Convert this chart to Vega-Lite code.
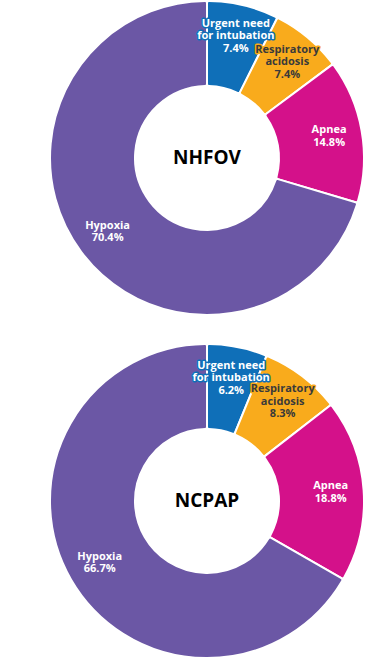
{
  "$schema": "https://vega.github.io/schema/vega-lite/v6.json",
  "bounds": "flush",
  "padding": {"left": 32, "top": -3, "right": 0, "bottom": 0},
  "spacing": 29,
  "config": {"view": {"stroke": null}, "font": "Open Sans"},
  "data": {"values": [
    {"group": "NHFOV", "cause": "Urgent need for intubation", "pct": 7.4, "order": 1, "lines": 3, "label": ["Urgent need", "for intubation", "7.4%"]},
    {"group": "NHFOV", "cause": "Respiratory acidosis", "pct": 7.4, "order": 2, "lines": 3, "label": ["Respiratory", "acidosis", "7.4%"]},
    {"group": "NHFOV", "cause": "Apnea", "pct": 14.8, "order": 3, "lines": 2, "label": ["Apnea", "14.8%"]},
    {"group": "NHFOV", "cause": "Hypoxia", "pct": 70.4, "order": 4, "lines": 2, "label": ["Hypoxia", "70.4%"]},
    {"group": "NCPAP", "cause": "Urgent need for intubation", "pct": 6.2, "order": 1, "lines": 3, "label": ["Urgent need", "for intubation", "6.2%"]},
    {"group": "NCPAP", "cause": "Respiratory acidosis", "pct": 8.3, "order": 2, "lines": 3, "label": ["Respiratory", "acidosis", "8.3%"]},
    {"group": "NCPAP", "cause": "Apnea", "pct": 18.8, "order": 3, "lines": 2, "label": ["Apnea", "18.8%"]},
    {"group": "NCPAP", "cause": "Hypoxia", "pct": 66.7, "order": 4, "lines": 2, "label": ["Hypoxia", "66.7%"]}
  ]},
  "facet": {"row": {"field": "group", "type": "nominal", "header": null, "sort": ["NHFOV", "NCPAP"]}},
  "spec": {
    "width": 350,
    "height": 314,
    "encoding": {
      "theta": {"field": "pct", "type": "quantitative", "stack": true},
      "order": {"field": "order", "type": "quantitative"}
    },
    "layer": [
      {
        "mark": {"type": "arc", "radius": 157, "radius2": 72, "stroke": "white", "strokeWidth": 2, "cornerRadius": 2},
        "encoding": {
          "color": {"field": "cause", "type": "nominal", "legend": null,
            "scale": {"domain": ["Urgent need for intubation", "Respiratory acidosis", "Apnea", "Hypoxia"], "range": ["#0f6fb8", "#f9ab1c", "#d4118a", "#6b57a5"]}}
        }
      },
      {
        "mark": {"type": "text", "radius": 125, "dy": -12.5, "fontSize": 11, "fontWeight": "bold", "lineHeight": 12.5, "strokeWidth": 3, "strokeJoin": "round"},
        "encoding": {
          "text": {"condition": {"test": "datum.lines == 3", "field": "label"}, "value": ""},
          "stroke": {"field": "cause", "type": "nominal", "legend": null,
            "scale": {"domain": ["Urgent need for intubation", "Respiratory acidosis", "Apnea", "Hypoxia"], "range": ["#0f6fb8", "#f9ab1c", "#d4118a", "#6b57a5"]}},
          "fill": {"field": "cause", "type": "nominal", "legend": null,
            "scale": {"domain": ["Urgent need for intubation", "Respiratory acidosis", "Apnea", "Hypoxia"], "range": ["#0f6fb8", "#f9ab1c", "#d4118a", "#6b57a5"]}}
        }
      },
      {
        "mark": {"type": "text", "radius": 125, "dy": -12.5, "fontSize": 11, "fontWeight": "bold", "lineHeight": 12.5},
        "encoding": {
          "text": {"condition": {"test": "datum.lines == 3", "field": "label"}, "value": ""},
          "color": {"condition": {"test": "datum.order == 2", "value": "#3a3a3a"}, "value": "white"}
        }
      },
      {
        "mark": {"type": "text", "radius": 124, "dy": -6.25, "fontSize": 11, "fontWeight": "bold", "lineHeight": 12.5, "color": "white"},
        "encoding": {
          "text": {"condition": {"test": "datum.lines == 2", "field": "label"}, "value": ""}
        }
      },
      {
        "mark": {"type": "text", "fontSize": 19, "fontWeight": "bold", "color": "black"},
        "encoding": {
          "text": {"condition": {"test": "datum.order == 1", "field": "group"}, "value": ""},
          "theta": null,
          "order": null
        }
      }
    ]
  }
}
